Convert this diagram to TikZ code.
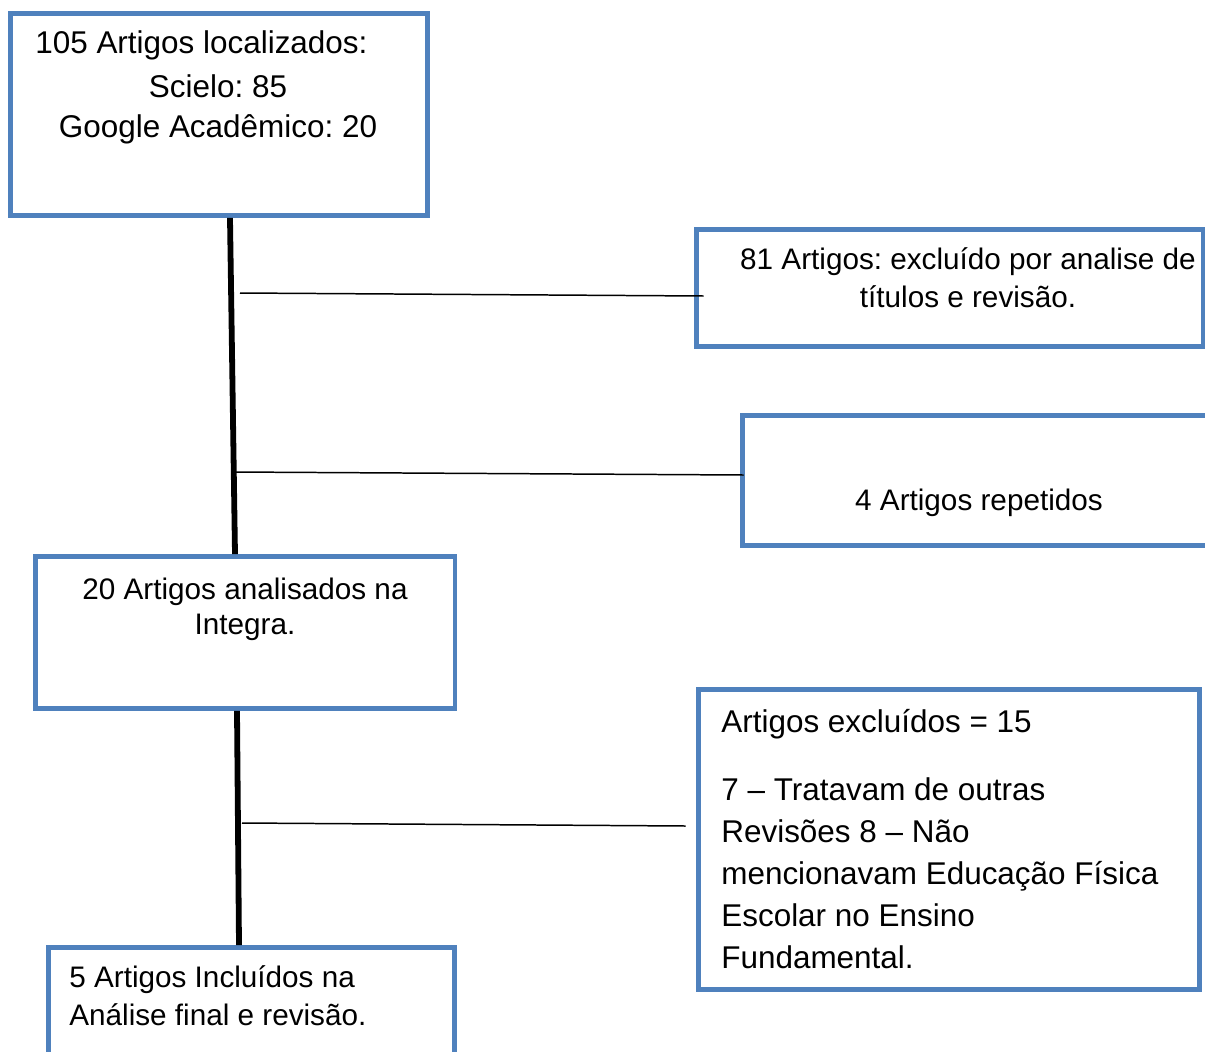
\documentclass[tikz,border=0pt]{standalone}
\usepackage{fontspec}
\setmainfont{Liberation Sans}
\usepackage{tikz}
\definecolor{caixa}{RGB}{79,129,189}
\frenchspacing

\begin{document}
\begin{tikzpicture}[x=0.02cm, y=-0.02cm]
    \tikzstyle{etapa} = [rectangle, draw=caixa, line width=2.8pt, inner sep=0pt]
    \tikzstyle{grande} = [inner sep=0pt, font=\fontsize{17.9}{23.8}\selectfont]
    \tikzstyle{pequeno} = [inner sep=0pt, font=\fontsize{16.9}{21.5}\selectfont]
    \tikzstyle{tronco} = [line width=3.3pt]
    \tikzstyle{ramo} = [line width=0.85pt]
    \useasboundingbox (0,0) rectangle (1205,1052);
    \clip (0,0) rectangle (1205,1052);
    % caixas
    \node[etapa, minimum width=8.34cm, minimum height=4.04cm] (loc) at (219,114.5) {};
    \node[etapa, minimum width=10.14cm, minimum height=2.34cm] (tit) at (950,288) {};
    \node[etapa, minimum width=9.45cm, minimum height=2.6cm] (rep) at (978.75,480.5) {};
    \node[etapa, minimum width=8.4cm, minimum height=3.04cm] (integra) at (245,632.5) {};
    \node[etapa, minimum width=10.02cm, minimum height=6.0cm] (exc) at (949,839.5) {};
    \node[etapa, minimum width=8.12cm, minimum height=2.45cm] (incl) at (251.5,1008.75) {};
    % textos (base = ultima linha)
    \node[grande, anchor=base west] (locA) at (35,53) {105 Artigos localizados:};
    \node[grande, anchor=base, align=center, font=\fontsize{17.9}{22.7}\selectfont] (locB) at (218,137) {Scielo: 85\\Google Acadêmico: 20};
    \node[pequeno, anchor=base, align=center] (titT) at (968,307) {81 Artigos: excluído por analise de\\títulos e revisão.};
    \node[pequeno, anchor=base] (repT) at (979,510) {4 Artigos repetidos};
    \node[pequeno, anchor=base, align=center, font=\fontsize{16.9}{19.8}\selectfont] (integraT) at (245,634) {20 Artigos analisados na\\Integra.};
    \node[grande, anchor=base west] (excA) at (721,732) {Artigos excluídos = 15};
    \node[grande, anchor=base west, align=left] (excB) at (721,968) {7 – Tratavam de outras\\Revisões 8 – Não\\mencionavam Educação Física\\Escolar no Ensino\\Fundamental.};
    \node[pequeno, anchor=base west, align=left] (inclT) at (69,1025) {5 Artigos Incluídos na\\Análise final e revisão.};
    % ligacoes
    \draw[tronco] ([xshift=0.22cm]loc.south) -- ([xshift=-0.2cm]integra.north);
    \draw[tronco] ([xshift=-0.16cm]integra.south) -- ([xshift=-0.25cm]incl.north);
    \coordinate (r1) at (240,293);
    \coordinate (r2) at (233,472);
    \coordinate (r3) at (242,823);
    \draw[ramo] (r1) -- ([xshift=0.19cm, yshift=-0.16cm]tit.west);
    \draw[ramo] (r2) -- ([xshift=0.07cm, yshift=0.11cm]rep.west);
    \draw[ramo] (r3) -- ([xshift=-0.21cm, yshift=0.27cm]exc.west);
\end{tikzpicture}
\end{document}
